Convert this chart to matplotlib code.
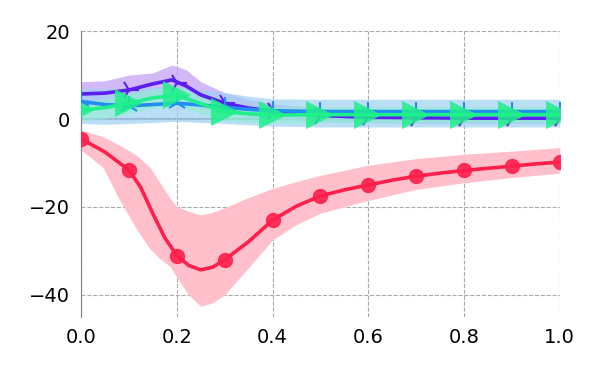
import numpy as np
import matplotlib
matplotlib.use('Agg')
import matplotlib.pyplot as plt

##-Data
# red series (line + markers)
red_x = [0.0, 0.05, 0.1, 0.125, 0.15, 0.175, 0.2, 0.225, 0.25, 0.275, 0.3, 0.35, 0.4, 0.45,
         0.5, 0.55, 0.6, 0.65, 0.7, 0.75, 0.8, 0.85, 0.9, 0.95, 1.0]
red_y = [-4.5, -7.5, -11.6, -15.6, -21.5, -27.0, -31.0, -33.3, -34.3, -33.7, -32.0, -27.9, -23.0, -19.8,
         -17.5, -16.1, -15.0, -13.9, -13.0, -12.3, -11.7, -11.2, -10.7, -10.2, -9.8]
red_band_x = [0.0, 0.046, 0.081, 0.116, 0.144, 0.165, 0.186, 0.2, 0.225, 0.25, 0.275, 0.3,
              0.346, 0.4, 0.45, 0.5, 0.6, 0.7, 0.8, 0.9, 1.0]
red_hi = [-2.5, -4.0, -6.0, -8.2, -11.0, -14.5, -18.0, -19.9, -21.0, -21.8, -21.2, -20.2,
          -18.0, -15.8, -14.2, -12.8, -10.5, -9.0, -8.0, -7.3, -6.5]
red_lo = [-7.0, -11.0, -18.5, -25.0, -29.5, -31.8, -33.5, -36.0, -40.0, -42.6, -41.8, -40.0,
          -34.3, -27.5, -24.0, -21.4, -18.5, -16.0, -14.5, -13.3, -12.3]

# purple series
pur_x = [0.0, 0.05, 0.1, 0.15, 0.19, 0.22, 0.25, 0.3, 0.35, 0.4, 0.5, 0.6, 0.7, 0.8, 0.9, 1.0]
pur_y = [5.7, 5.9, 6.6, 8.0, 8.9, 7.5, 5.5, 3.6, 2.5, 1.8, 0.8, 0.4, 0.3, 0.2, 0.2, 0.2]
pur_hi = [8.5, 8.7, 10.0, 10.5, 12.3, 11.2, 8.5, 6.0, 4.5, 3.5, 2.5, 2.2, 2.0, 2.0, 2.0, 2.0]
pur_lo = [3.0, 3.2, 3.5, 4.5, 5.0, 4.0, 2.5, 1.5, 0.5, 0.0, -0.5, -0.8, -1.0, -1.0, -1.0, -1.0]

# blue series
blu_x = [0.0, 0.05, 0.1, 0.15, 0.2, 0.25, 0.3, 0.35, 0.4, 0.5, 0.6, 0.7, 0.8, 0.9, 1.0]
blu_y = [4.0, 3.3, 3.0, 3.3, 3.6, 3.2, 2.7, 2.2, 1.9, 1.7, 1.7, 1.7, 1.7, 1.7, 1.7]
blu_hi = [7.0, 7.0, 7.0, 7.2, 7.2, 6.8, 6.0, 5.2, 4.6, 4.5, 4.5, 4.5, 4.5, 4.5, 4.5]
blu_lo = [-1.0, -1.2, -1.0, -0.8, -0.5, -0.8, -1.0, -1.3, -1.6, -1.8, -1.8, -1.8, -1.8, -1.8, -1.8]

# green series
grn_x = [0.0, 0.05, 0.1, 0.15, 0.2, 0.25, 0.3, 0.35, 0.4, 0.5, 0.6, 0.7, 0.8, 0.9, 1.0]
grn_y = [2.0, 2.6, 3.6, 4.8, 5.5, 3.5, 1.7, 1.2, 0.9, 1.0, 1.0, 1.0, 1.0, 1.0, 1.0]
grn_hi = [4.0, 4.6, 5.6, 6.8, 7.5, 5.5, 3.5, 3.0, 2.7, 2.8, 2.8, 2.8, 2.8, 2.8, 2.8]
grn_lo = [-0.5, 0.2, 1.2, 2.5, 3.2, 1.2, -0.3, -0.7, -0.9, -0.8, -0.8, -0.8, -0.8, -0.8, -0.8]

mark_x = [0.0, 0.1, 0.2, 0.3, 0.4, 0.5, 0.6, 0.7, 0.8, 0.9, 1.0]
red_m = [-4.5, -11.6, -31.1, -32.0, -23.0, -17.5, -15.0, -13.0, -11.7, -10.7, -9.8]
pur_m = [5.7, 6.6, 8.3, 3.6, 1.8, 0.8, 0.4, 0.3, 0.2, 0.2, 0.2]
blu_m = [4.0, 3.0, 3.6, 2.7, 1.9, 1.7, 1.7, 1.7, 1.7, 1.7, 1.7]
grn_m = [2.0, 3.6, 5.5, 1.7, 0.9, 1.0, 1.0, 1.0, 1.0, 1.0, 1.0]

##-Plot
fig = plt.figure(figsize=(6, 3.75), dpi=100)
ax = fig.add_axes([0.135, 0.155, 0.798, 0.762])

ax.axhline(0, color='grey', lw=1.5, zorder=1)

ax.fill_between(red_band_x, red_lo, red_hi, color='#ffc0cb', lw=0, zorder=2)
ax.plot(red_x, red_y, color='#ff1f4b', lw=2.6, zorder=3)
ax.plot(mark_x, red_m, 'o', color='#ff1f4b', ms=10, alpha=0.9, zorder=3)

ax.fill_between(pur_x, pur_lo, pur_hi, color='#c9a8f5', alpha=0.8, lw=0, zorder=2)
ax.fill_between(blu_x, blu_lo, blu_hi, color='#9fd0f5', alpha=0.7, lw=0, zorder=2)
ax.fill_between(grn_x, grn_lo, grn_hi, color='#8ff0d0', alpha=0.6, lw=0, zorder=2)

ax.plot(pur_x, pur_y, color='#5a1ef0', lw=2.6, zorder=4)
ax.plot(mark_x, pur_m, '4', color='#5a1ef0', ms=14, mew=1.5, zorder=4)
ax.plot(blu_x, blu_y, color='#1f8ef0', lw=2.6, zorder=5)
ax.plot(mark_x, blu_m, '2', color='#1f8ef0', ms=14, mew=1.5, zorder=5)
ax.plot(grn_x, grn_y, color='#1ef08a', lw=2.6, zorder=6)
ax.plot(mark_x, grn_m, '>', color='#1ef08a', ms=20, alpha=0.85, mew=0, zorder=6)

ax.set_xlim(0, 1)
ax.set_ylim(-45, 20)
ax.set_xticks([0.0, 0.2, 0.4, 0.6, 0.8, 1.0])
ax.set_yticks([-40, -20, 0, 20])
ax.tick_params(length=0, labelsize=14, pad=8)
ax.grid(True, color='#aaaaaa', ls='--', lw=0.8)
for s in ['top', 'right', 'bottom']:
    ax.spines[s].set_visible(False)
ax.spines['left'].set_color('grey')

fig.savefig('out.png', dpi=100)
